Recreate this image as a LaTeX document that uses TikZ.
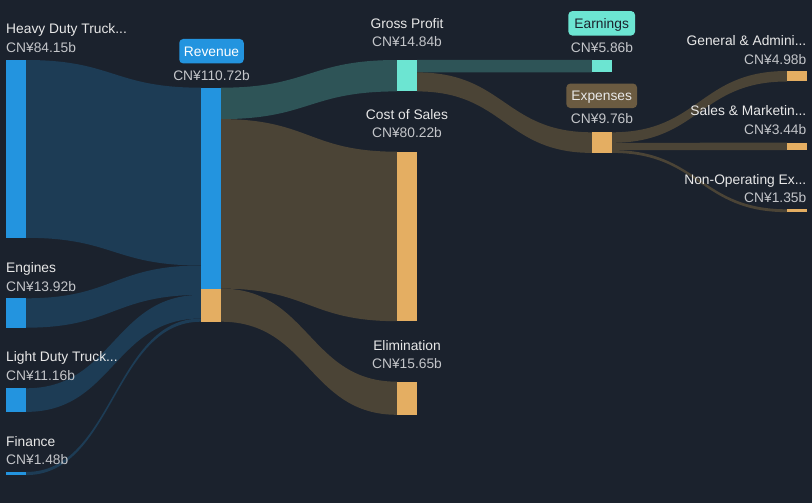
\documentclass[tikz,border=0pt]{standalone}
\usepackage{fontspec}
\setmainfont{Liberation Sans}
\usetikzlibrary{calc,backgrounds}
\definecolor{bgc}{HTML}{1B222D}
\definecolor{bluen}{HTML}{2394DF}
\definecolor{bluef}{HTML}{1D3C55}
\definecolor{tealn}{HTML}{6CE5D2}
\definecolor{tealf}{HTML}{2E5457}
\definecolor{orn}{HTML}{E4AE62}
\definecolor{brf}{HTML}{4B4436}
\definecolor{expb}{HTML}{6B5B41}
\definecolor{nametext}{HTML}{E8E8E8}
\definecolor{valtext}{HTML}{C4C6CA}
\newcommand\lblfont{\fontsize{13.8}{16}\selectfont}
% flow between two bars: src, src top off, src bottom off, dst, dst top off, dst bottom off, colour
\newcommand\sflow[7]{%
  \coordinate (fa) at ($(#1.north east)+(0,#2)$);
  \coordinate (fb) at ($(#1.north east)+(0,#3)$);
  \coordinate (fc) at ($(#4.north west)+(0,#5)$);
  \coordinate (fd) at ($(#4.north west)+(0,#6)$);
  \coordinate (fm) at ($(fa)!0.5!(fc)$);
  \fill[#7] (fa) .. controls (fm |- fa) and (fm |- fc) .. (fc) -- (fd)
     .. controls (fm |- fd) and (fm |- fb) .. (fb) -- cycle;}
\tikzset{
  bar/.style={anchor=north west, minimum width=20pt, inner sep=0pt, outer sep=0pt, draw=none, rectangle},
  lbl/.style={font=\lblfont, text=nametext, inner sep=0pt},
  val/.style={font=\lblfont, text=valtext, inner sep=0pt},
  badge/.style={rounded corners=4pt, minimum height=24.5pt, inner sep=0pt, font=\lblfont, text height=9.9pt, text depth=0pt}
}
\begin{document}
\begin{tikzpicture}[x=1pt,y=-1pt]
\useasboundingbox (0,0) rectangle (812,503);
% bars
\node[bar, fill=bluen, minimum height=177.8pt] (heavy) at (6,60) {};
\node[bar, fill=bluen, minimum height=29.4pt] (engines) at (6,298.3) {};
\node[bar, fill=bluen, minimum height=23.6pt] (light) at (6,388.3) {};
\node[bar, fill=bluen, minimum height=3.1pt] (finance) at (6,472) {};
\node[bar, fill=bluen, minimum height=234pt] (rev) at (201,87.7) {};
\node[bar, fill=orn, minimum height=33.1pt] (revelim) at (201,288.6) {};
\node[bar, fill=tealn, minimum height=31.4pt] (gp) at (397,60) {};
\node[bar, fill=orn, minimum height=169.5pt] (cos) at (397,151.7) {};
\node[bar, fill=orn, minimum height=33.1pt] (elim) at (397,381.7) {};
\node[bar, fill=tealn, minimum height=12.4pt] (earn) at (592,60) {};
\node[bar, fill=orn, minimum height=20.6pt] (exp) at (592,132.3) {};
\node[bar, fill=orn, minimum height=10.5pt] (ga) at (787,71) {};
\node[bar, fill=orn, minimum height=7.3pt] (sm) at (787,142.7) {};
\node[bar, fill=orn, minimum height=2.85pt] (nop) at (787,209.3) {};
% flows
\begin{scope}[on background layer]
\fill[bgc] (0,0) rectangle (812,503);
\sflow{heavy}{0}{177.8}{rev}{0}{177.8}{bluef}
\sflow{engines}{0}{29.4}{rev}{177.8}{207.2}{bluef}
\sflow{light}{0}{23.6}{rev}{207.2}{230.8}{bluef}
\sflow{finance}{0}{3.1}{rev}{230.8}{234}{bluef}
\sflow{rev}{0}{31.4}{gp}{0}{31.4}{tealf}
\sflow{rev}{31.4}{200.9}{cos}{0}{169.5}{brf}
\sflow{rev}{200.9}{234}{elim}{0}{33.1}{brf}
\sflow{gp}{0}{12.4}{earn}{0}{12.4}{tealf}
\sflow{gp}{12.4}{31.4}{exp}{0}{20.6}{brf}
\sflow{exp}{0}{10.5}{ga}{0}{10.5}{brf}
\sflow{exp}{10.5}{17.8}{sm}{0}{7.3}{brf}
\sflow{exp}{17.8}{20.6}{nop}{0}{2.85}{brf}
\end{scope}
% left labels
\node[lbl, anchor=base west] (heavyl) at (6,34) {Heavy Duty Truck...};
\node[val, anchor=base west] (heavyv) at (6,52.7) {CN¥84.15b};
\node[lbl, anchor=base west] (enginesl) at (6,272.7) {Engines};
\node[val, anchor=base west] (enginesv) at (6,291.7) {CN¥13.92b};
\node[lbl, anchor=base west] (lightl) at (6,361.7) {Light Duty Truck...};
\node[val, anchor=base west] (lightv) at (6,380.7) {CN¥11.16b};
\node[lbl, anchor=base west] (financel) at (6,446) {Finance};
\node[val, anchor=base west] (financev) at (6,464.7) {CN¥1.48b};
% revenue
\node[badge, fill=bluen, text=white, minimum width=64.5pt] (revl) at (211.5,51.2) {Revenue};
\node[val, anchor=base] (revv) at (211.5,81) {CN¥110.72b};
% middle
\node[lbl, anchor=base] (gpl) at (407,28.3) {Gross Profit};
\node[val, anchor=base] (gpv) at (407,47) {CN¥14.84b};
\node[lbl, anchor=base] (cosl) at (407,119.3) {Cost of Sales};
\node[val, anchor=base] (cosv) at (407,138) {CN¥80.22b};
\node[lbl, anchor=base] (eliml) at (407,350) {Elimination};
\node[val, anchor=base] (elimv) at (407,368.7) {CN¥15.65b};
% earnings / expenses
\node[badge, fill=tealn, text=bgc, minimum width=66.7pt] (earnl) at (601.7,23.3) {Earnings};
\node[val, anchor=base] (earnv) at (602,52.3) {CN¥5.86b};
\node[badge, fill=expb, text=nametext, minimum width=70.7pt] (expl) at (601.7,95.8) {Expenses};
\node[val, anchor=base] (expv) at (602,124) {CN¥9.76b};
% right labels
\node[lbl, anchor=base east] (gal) at (806.5,46) {General \& Admini...};
\node[val, anchor=base east] (gav) at (806.5,64.3) {CN¥4.98b};
\node[lbl, anchor=base east] (sml) at (806.5,115) {Sales \& Marketin...};
\node[val, anchor=base east] (smv) at (806.5,134.3) {CN¥3.44b};
\node[lbl, anchor=base east] (nopl) at (806.5,184.3) {Non-Operating Ex...};
\node[val, anchor=base east] (nopv) at (806.5,202.3) {CN¥1.35b};
\end{tikzpicture}
\end{document}
